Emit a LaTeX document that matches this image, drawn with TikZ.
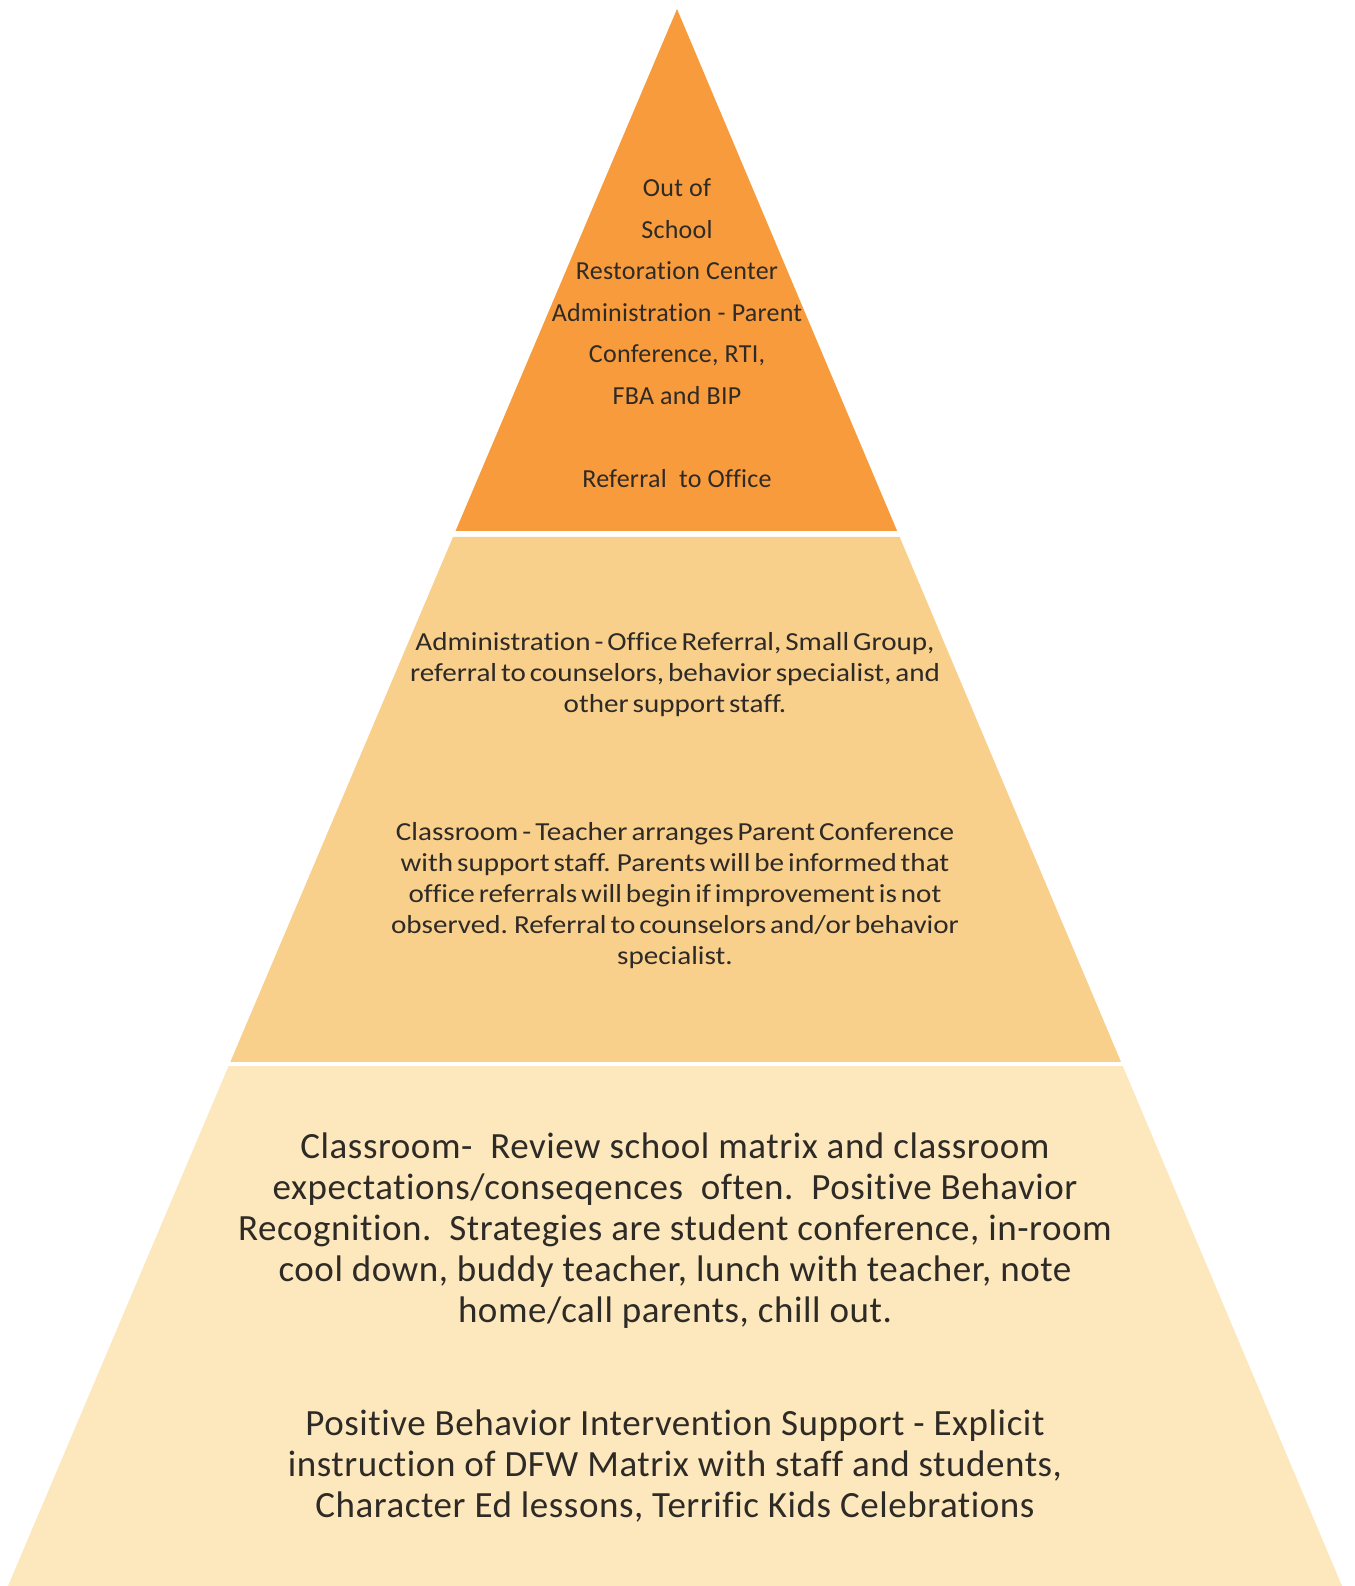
\documentclass[tikz,border=0pt]{standalone}
\usepackage{fontspec}
\setmainfont[Ligatures=NoCommon]{Carlito}
\newfontfamily\tiertopfont[Ligatures=NoCommon,LetterSpace=1]{Carlito}
\newfontfamily\tiermidfont[Ligatures=NoCommon,FakeStretch=1.12,WordSpace=0.6]{Carlito}
\newfontfamily\tierbasefont[Ligatures=NoCommon,LetterSpace=1.5]{Carlito}
\usetikzlibrary{calc}

\definecolor{tiertop}{HTML}{F79B3C}
\definecolor{tiermid}{HTML}{F9CF8C}
\definecolor{tierbase}{HTML}{FCE8BC}
\definecolor{tiertext}{HTML}{2E2A26}

\begin{document}
\begin{tikzpicture}[x=1pt,y=-1pt,
  tiertxt/.style={align=center,text=tiertext,inner sep=0pt},
  toptxt/.style={tiertxt,font=\tiertopfont\fontsize{26}{41.5}\selectfont},
  midtxt/.style={tiertxt,font=\tiermidfont\fontsize{26}{31}\selectfont},
  basetxt/.style={tiertxt,font=\tierbasefont\fontsize{37}{41}\selectfont}]
\useasboundingbox (0,0) rectangle (1354,1586);
\coordinate (apex) at (677,9);
\coordinate (bl) at (8,1586);
\coordinate (br) at (1342,1586);

% the three tiers, cut from one triangle
\fill[tiertop] (apex) -- ($(apex)!0.331!(br)$) -- ($(apex)!0.331!(bl)$) -- cycle;
\fill[tiermid] ($(apex)!0.3348!(bl)$) -- ($(apex)!0.3348!(br)$)
  -- ($(apex)!0.6677!(br)$) -- ($(apex)!0.6677!(bl)$) -- cycle;
\fill[tierbase] ($(apex)!0.6703!(bl)$) -- ($(apex)!0.6703!(br)$)
  -- (br) -- (bl) -- cycle;

% top tier
\node[toptxt] (office) at (677,333) {Out of\\School\\Restoration Center\\Administration - Parent\\Conference, RTI,\\FBA and BIP\\[41.5pt]Referral\ \ to Office};

% middle tier
\node[midtxt] (admin) at (675,675) {Administration - Office Referral, Small Group,\\referral to counselors, behavior specialist, and\\other support staff.};
\node[midtxt] (teacher) at (675,896) {Classroom - Teacher arranges Parent Conference\\with support staff. Parents will be informed that\\office referrals will begin if improvement is not\\observed. Referral to counselors and/or behavior\\specialist.};

% base tier
\node[basetxt] (classroom) at (675,1231) {Classroom-\ \ Review school matrix and classroom\\expectations/conseqences\ \ often.\ \ Positive Behavior\\Recognition.\ \ Strategies are student conference, in-room\\cool down, buddy teacher, lunch with teacher, note\\home/call parents, chill out.};
\node[basetxt] (pbis) at (675,1466) {Positive Behavior Intervention Support - Explicit\\instruction of DFW Matrix with staff and students,\\Character Ed lessons, Terrific Kids Celebrations};
\end{tikzpicture}
\end{document}
